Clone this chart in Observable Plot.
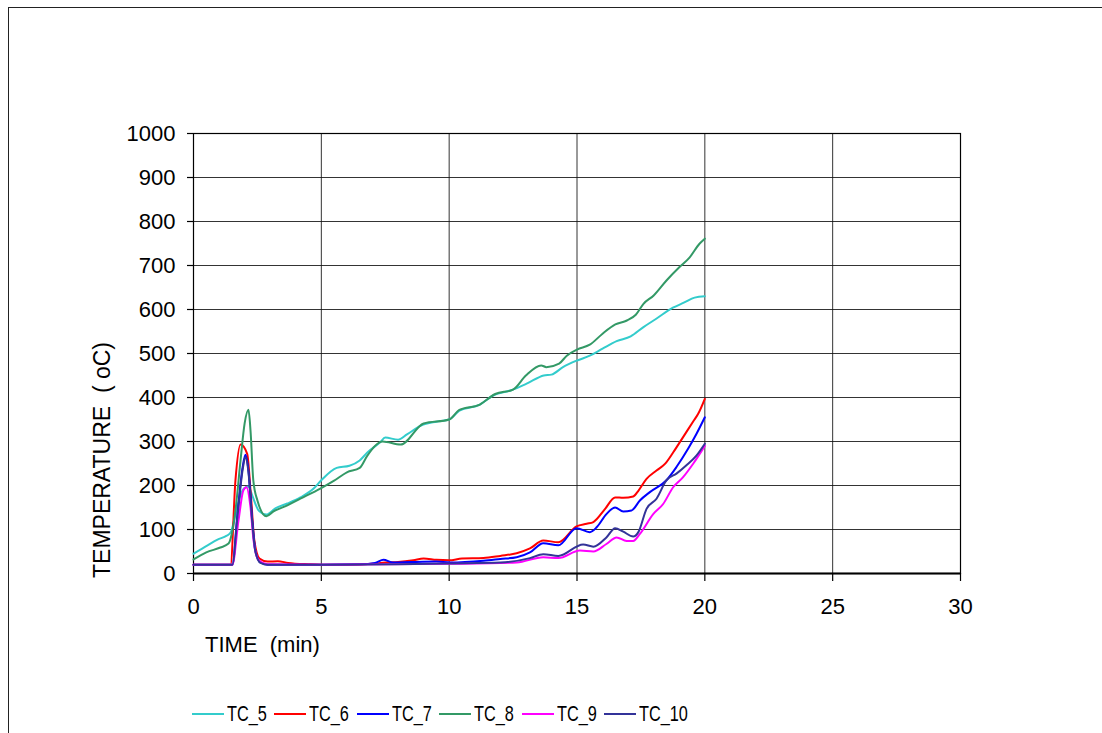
<!DOCTYPE html>
<html>
<head>
<meta charset="utf-8">
<script src="https://cdn.jsdelivr.net/npm/d3@7"></script>
<script src="https://cdn.jsdelivr.net/npm/@observablehq/plot@0.6"></script>
<style>
  body { margin: 0; background: #fff; overflow: hidden; font-family: "Liberation Sans", Arial, sans-serif; }
  #wrap { position: relative; width: 1102px; height: 733px; overflow: hidden; }
  #border { position: absolute; left: 8px; top: 7px; width: 1200px; height: 800px; border: 1.5px solid #222; box-sizing: border-box; }
  #chart { position: absolute; left: 0; top: 0; }
  #legend { position: absolute; left: 0; top: 700px; width: 1102px; height: 28px; }
  .item { position: absolute; top: 0; height: 28px; display: flex; align-items: center; }
  .swatch { width: 32px; height: 0; border-top: 2.5px solid; margin-right: 3px; }
  .lab { font-size: 22px; color: #000; display: inline-block; transform: scaleX(0.74); transform-origin: left center; white-space: nowrap; }
</style>
</head>
<body>
<div id="wrap">
  <div id="border"></div>
  <div id="chart"></div>
  <div id="legend"></div>
</div>
<script>
// Thermocouple readings: [time (min), temperature (oC)]
const TC_5 = [[0,45],[0.55,64],[0.94,77],[1.3,86],[1.45,93],[1.57,116],[1.7,150],[1.97,193],[2.15,198],[2.3,177],[2.55,143],[2.85,134],[3.2,148],[3.67,159],[4.18,173],[4.7,193],[5.0,212],[5.6,240],[6.1,245],[6.5,257],[6.8,275],[7.3,298],[7.5,309],[8.0,304],[8.35,316],[8.9,336],[9.5,345],[10.0,350],[10.4,370],[11.2,384],[11.7,404],[12.4,416],[13.05,432],[13.7,450],[14.0,452],[14.45,469],[15.0,484],[15.5,495],[16.0,511],[16.55,528],[17.1,539],[17.6,560],[18.1,579],[18.75,604],[19.2,616],[19.6,627],[20,630]];
const TC_6 = [[0,20],[1.45,20],[1.64,211],[1.84,293],[2.1,272],[2.25,173],[2.38,75],[2.58,34],[2.9,27],[3.3,28],[3.7,24],[4.5,21],[5,20],[6,20],[7,22],[7.5,25],[8.0,26],[8.6,30],[9.0,34],[9.5,31],[10.0,30],[10.5,34],[11.34,35],[12.0,40],[12.64,46],[13.16,57],[13.68,75],[14.27,71],[14.98,107],[15.38,113],[15.64,117],[16.1,147],[16.49,173],[16.81,172],[17.2,175],[17.4,188],[17.72,215],[18.11,234],[18.44,249],[18.76,275],[19.15,310],[19.55,346],[19.74,363],[20,397]];
const TC_7 = [[0,20],[1.52,20],[1.72,136],[1.92,241],[2.03,270],[2.15,234],[2.3,120],[2.42,52],[2.62,25],[2.9,20],[5,20],[6.5,21],[7.1,24],[7.43,31],[7.8,25],[8.5,26],[9.5,27],[10.04,25],[11.34,29],[12.0,33],[12.64,37],[13.16,48],[13.68,69],[14.27,64],[14.98,103],[15.5,94],[15.77,105],[16.15,135],[16.49,150],[16.81,141],[17.13,143],[17.46,166],[17.85,185],[18.5,212],[18.89,242],[19.35,284],[19.67,317],[20,355]];
const TC_8 = [[0,32],[0.5,48],[1.05,59],[1.37,68],[1.5,91],[1.64,143],[1.84,257],[2.0,341],[2.15,372],[2.23,325],[2.34,211],[2.5,166],[2.85,130],[3.13,141],[3.67,155],[4.18,170],[4.96,193],[5.5,211],[6.0,230],[6.5,240],[6.8,268],[7.4,300],[8.1,293],[9.0,341],[10.0,350],[10.4,372],[11.2,384],[11.8,408],[12.5,418],[13.0,450],[13.6,473],[13.8,469],[14.3,477],[14.6,495],[15.0,509],[15.5,520],[16.0,545],[16.5,566],[16.95,575],[17.3,588],[17.6,613],[18.0,632],[18.5,666],[19.0,696],[19.4,718],[19.8,750],[20,761]];
const TC_9 = [[0,20],[1.52,20],[1.76,120],[1.95,189],[2.07,196],[2.23,150],[2.35,75],[2.55,30],[2.9,21],[5,20],[10,22],[12.64,25],[13.68,37],[14.27,35],[15.11,52],[15.64,50],[16.15,67],[16.55,82],[16.94,74],[17.2,74],[17.46,90],[17.98,135],[18.37,158],[18.76,196],[19.15,219],[19.55,250],[20,290]];
const TC_10 = [[0,20],[1.52,20],[1.72,130],[1.92,235],[2.03,265],[2.15,230],[2.3,115],[2.42,50],[2.62,24],[2.9,20],[5,20],[8,21],[10.04,23],[12,25],[13.16,35],[13.68,44],[14.27,40],[15.24,66],[15.64,61],[16.15,82],[16.49,103],[16.81,95],[17.2,84],[17.4,94],[17.72,147],[18.11,170],[18.5,212],[18.89,227],[19.28,246],[19.67,268],[20,295]];

const seriesNames = ["TC_5", "TC_6", "TC_7", "TC_8", "TC_9", "TC_10"];
const seriesColors = ["#33CCCC", "#FF0000", "#0000FF", "#339966", "#FF00FF", "#333399"];
const seriesData = [TC_5, TC_6, TC_7, TC_8, TC_9, TC_10];

const xTicks = [0, 5, 10, 15, 20, 25, 30];
const yTicks = [0, 100, 200, 300, 400, 500, 600, 700, 800, 900, 1000];
const xTitle = "TIME  (min)";
const yTitle = "TEMPERATURE  ( oC)";

const rows = seriesData.flatMap((d, i) => d.map(([t, v]) => ({series: seriesNames[i], t, v})));

const chart = Plot.plot({
  width: 1102,
  height: 660,
  marginLeft: 193,
  marginRight: 142,
  marginTop: 133,
  marginBottom: 87,
  x: {domain: [0, 30]},
  y: {domain: [0, 1000]},
  color: {domain: seriesNames, range: seriesColors},
  style: {fontFamily: "'Liberation Sans', Arial, sans-serif", fontSize: "22px", color: "#000", background: "transparent", overflow: "visible"},
  marks: [
    Plot.gridX(xTicks, {stroke: "#111", strokeOpacity: 0.85, strokeWidth: 1}),
    Plot.gridY(yTicks, {stroke: "#111", strokeOpacity: 0.85, strokeWidth: 1}),
    Plot.frame({stroke: "#000", strokeWidth: 1.2}),
    Plot.axisY(yTicks, {tickSize: 6, tickPadding: 12, label: null, fontSize: 22, tickFormat: d => String(d), stroke: "#000", strokeWidth: 1.2}),
    Plot.axisX(xTicks, {tickSize: 8, tickPadding: 17, label: null, fontSize: 22, tickFormat: d => String(d), stroke: "#000", strokeWidth: 1.2}),
    Plot.ruleY([0], {stroke: "#000", strokeWidth: 2}),
    Plot.line(rows, {x: "t", y: "v", z: "series", stroke: "series", strokeWidth: 2, curve: "monotone-x"})
  ]
});

document.getElementById("chart").appendChild(chart);

// Axis titles
const svg = d3.select(chart);
svg.append("text")
  .attr("x", 205).attr("y", 652)
  .attr("font-size", 22)
  .attr("text-anchor", "start")
  .style("white-space", "pre")
  .attr("fill", "#000")
  .text(xTitle);
svg.append("text")
  .attr("transform", "translate(110,460) rotate(-90)")
  .attr("text-anchor", "middle")
  .attr("font-size", 23)
  .style("white-space", "pre")
  .attr("fill", "#000")
  .text(yTitle);

// Legend row
const legendLeft = [192, 274, 357, 439, 522, 604];
const legend = document.getElementById("legend");
seriesNames.forEach((name, i) => {
  const item = document.createElement("div");
  item.className = "item";
  item.style.left = legendLeft[i] + "px";
  const sw = document.createElement("div");
  sw.className = "swatch";
  sw.style.borderTopColor = seriesColors[i];
  const lab = document.createElement("span");
  lab.className = "lab";
  lab.textContent = name;
  item.appendChild(sw);
  item.appendChild(lab);
  legend.appendChild(item);
});
</script>
</body>
</html>
